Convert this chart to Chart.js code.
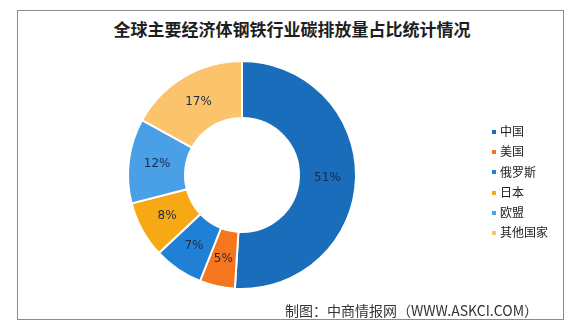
<!DOCTYPE html>
<html>
<head>
<meta charset="utf-8">
<script src="https://cdn.jsdelivr.net/npm/chart.js@4/dist/chart.umd.min.js"></script>
<style>
	body {
		margin: 0;
		width: 576px;
		height: 331px;
		background: #fff;
		font-family: "Noto Sans CJK SC", "Noto Sans", sans-serif;
		position: relative;
		overflow: hidden;
	}
	.frame {
		position: absolute;
		left: 17px;
		top: 10px;
		width: 545px;
		height: 308px;
		border: 1px solid #8c8c8c;
	}
	.title {
		position: absolute;
		left: 0;
		width: 584px;
		top: 16px;
		text-align: center;
		font-size: 17px;
		font-weight: bold;
		color: #1e1e1e;
		line-height: 26px;
	}
	#chart {
		position: absolute;
		left: 0;
		top: 0;
	}
	.legend {
		position: absolute;
		left: 492px;
		top: 121px;
		font-size: 12px;
		color: #222;
	}
	.legend div {
		height: 20.3px;
		line-height: 20px;
		white-space: nowrap;
	}
	.legend span {
		display: inline-block;
		width: 4px;
		height: 4px;
		margin-right: 4px;
		vertical-align: middle;
		position: relative;
		top: -1px;
	}
	.footer {
		position: absolute;
		left: 285px;
		top: 301px;
		font-size: 14px;
		color: #333;
		line-height: 18px;
		white-space: nowrap;
	}
</style>
</head>
<body>
<div class="frame"></div>
<div class="title">全球主要经济体钢铁行业碳排放量占比统计情况</div>
<canvas id="chart" width="576" height="331"></canvas>
<div class="legend" id="legend"></div>
<div class="footer">制图：中商情报网（WWW.ASKCI.COM）</div>

<script>
const labels = ["中国", "美国", "俄罗斯", "日本", "欧盟", "其他国家"];
const shares = [51, 5, 7, 8, 12, 17];
const colors = ["#1a6dba", "#f5761f", "#1f80d6", "#f7a815", "#4aa0e6", "#fbc46c"];

// Legend
const legendEl = document.getElementById("legend");
labels.forEach((label, i) => {
	const row = document.createElement("div");
	const box = document.createElement("span");
	box.style.background = colors[i];
	row.appendChild(box);
	row.appendChild(document.createTextNode(label));
	legendEl.appendChild(row);
});

// Percent labels at the middle of each slice
const sliceLabels = {
	id: "sliceLabels",
	afterDatasetsDraw(chart) {
		const { ctx } = chart;
		const meta = chart.getDatasetMeta(0);
		ctx.save();
		ctx.font = "12px 'DejaVu Sans', sans-serif";
		ctx.fillStyle = "#1c2a4a";
		ctx.textAlign = "center";
		ctx.textBaseline = "middle";
		meta.data.forEach((arc, i) => {
			const p = arc.getCenterPoint();
			ctx.fillText(shares[i] + "%", p.x, p.y);
		});
		ctx.restore();
	},
};

new Chart(document.getElementById("chart").getContext("2d"), {
	type: "doughnut",
	data: {
		labels: labels,
		datasets: [
			{
				data: shares,
				backgroundColor: colors,
				borderColor: "#ffffff",
				borderWidth: 2,
			},
		],
	},
	options: {
		responsive: false,
		animation: false,
		cutout: "50%",
		layout: {
			padding: { left: 127, right: 219, top: 60, bottom: 41 },
		},
		plugins: {
			legend: { display: false },
			tooltip: { enabled: false },
			title: { display: false },
		},
	},
	plugins: [sliceLabels],
});
</script>
</body>
</html>
